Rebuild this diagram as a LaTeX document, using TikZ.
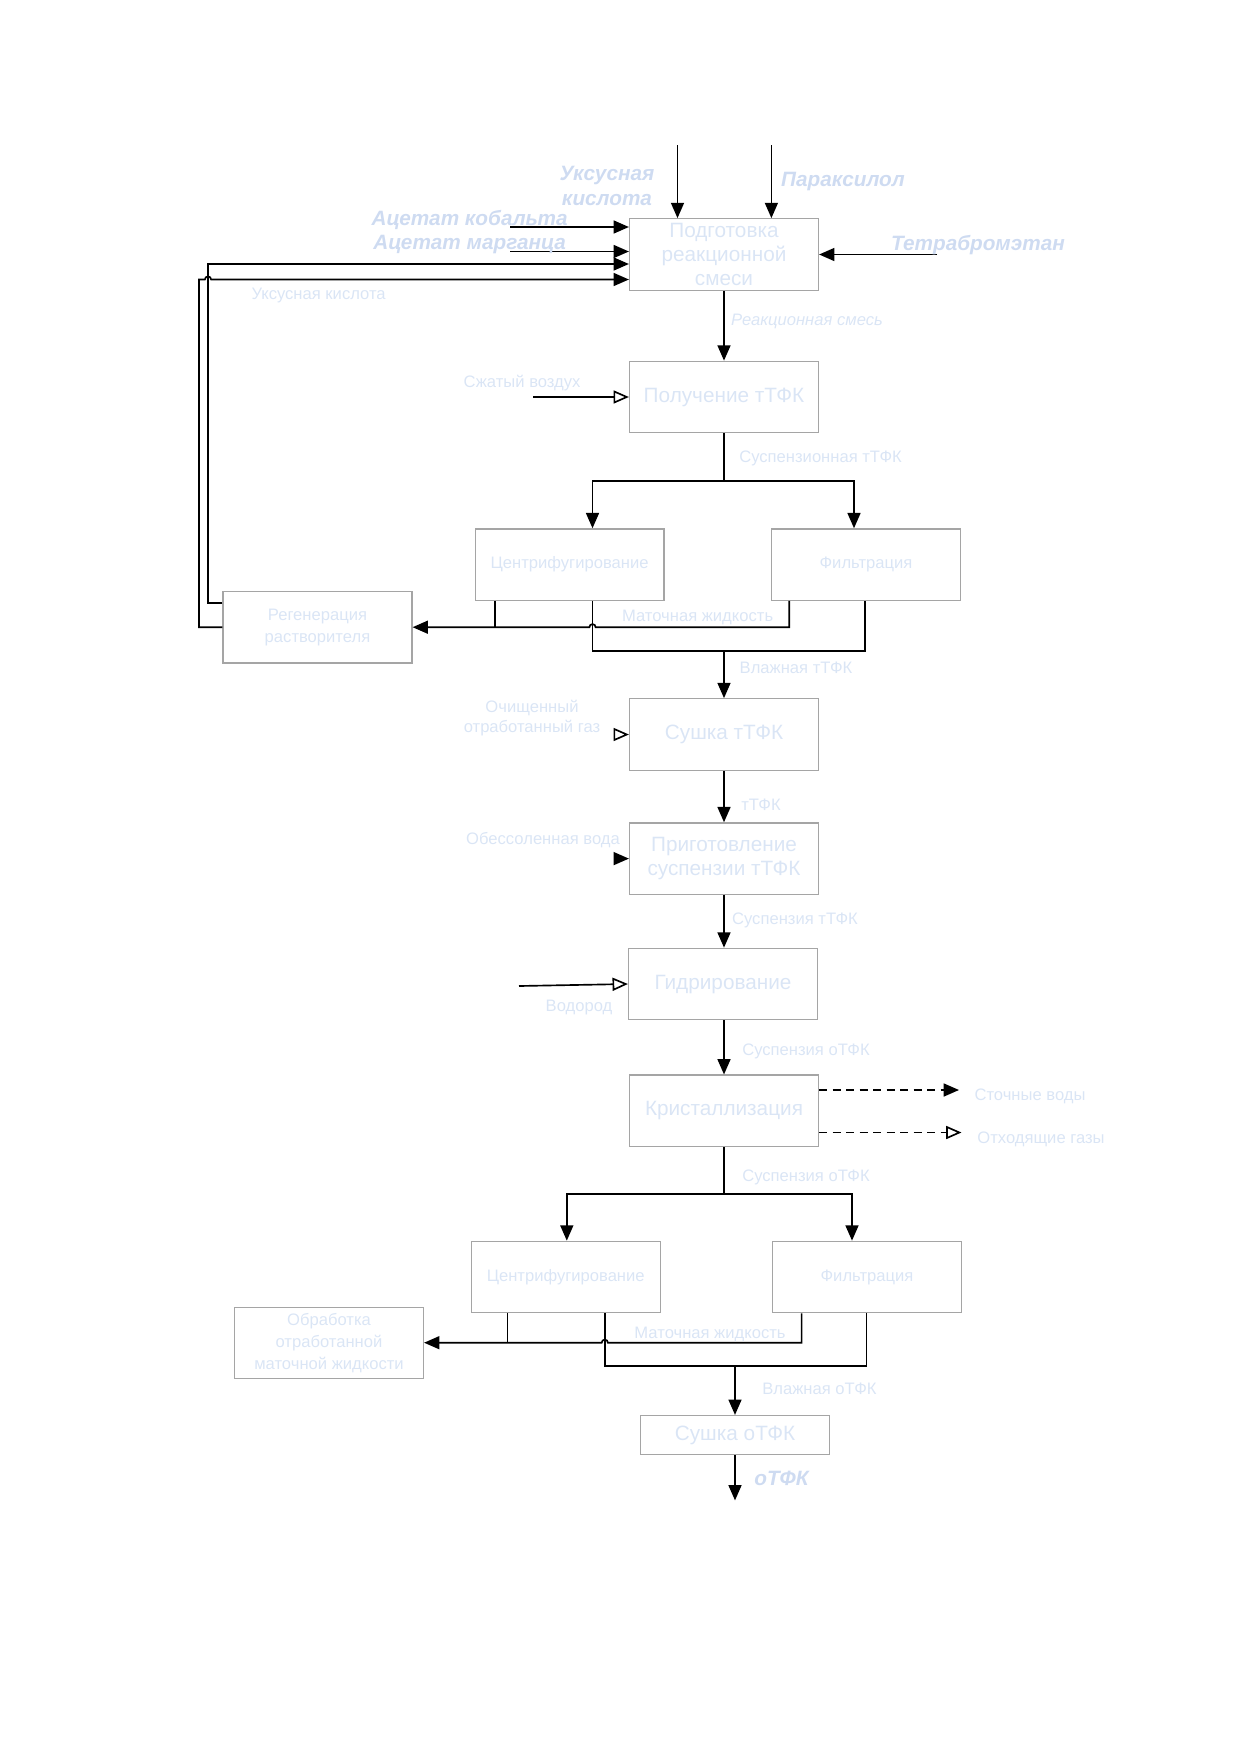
\documentclass[tikz,border=0pt]{standalone}
\usepackage{fontspec}
\setmainfont{Liberation Sans}
\usetikzlibrary{arrows.meta}
\usetikzlibrary{calc}
\definecolor{txtblue}{RGB}{218,229,245}
\definecolor{boldblue}{RGB}{206,219,241}
\definecolor{boxgray}{RGB}{165,165,165}

\begin{document}
\begin{tikzpicture}[x=0.16935mm, y=-0.16935mm,
		box/.style={draw=boxgray, line width=0.6pt, minimum width=32mm, minimum height=12.1mm, inner sep=0pt, align=center, text=txtblue, font=\fontsize{10}{11.5}\selectfont},
		smallbox/.style={box, font=\fontsize{8}{10.5}\selectfont},
		lbl/.style={text=txtblue, inner sep=0pt, align=center, font=\fontsize{8}{10}\selectfont},
		blbl/.style={text=boldblue, inner sep=0pt, align=center, font=\fontsize{10}{12}\selectfont\bfseries\itshape},
		arr/.style={line width=0.8pt, -{Triangle[length=2.6mm,width=2.2mm]}},
		oarr/.style={line width=0.8pt, -{Triangle[open,length=2.6mm,width=2.2mm]}},
		line/.style={line width=0.8pt},
		dash line/.style={dash pattern=on 4pt off 2.5pt}]
	
		\useasboundingbox (0,0) rectangle (1240,1754);
		
		\node (v0) at (724,254.5) [box] {Подготовка\\реакционной\\смеси};
		\node (v1) at (724,397) [box] {Получение тТФК};
		\node (v3) at (569.6,564.6) [smallbox] {Центрифугирование};
		\node (v4) at (866,564.6) [smallbox] {Фильтрация};
		\node (v2) at (317.5,627.2) [smallbox] {Регенерация\\растворителя};
		\node (v5) at (724,734.5) [box] {Сушка тТФК};
		\node (v6) at (724,858.6) [box] {Приготовление\\суспензии тТФК};
		\node (v7) at (723,984) [box] {Гидрирование};
		\node (v8) at (724,1110.8) [box] {Кристаллизация};
		\node (v9) at (565.7,1277) [smallbox] {Центрифугирование};
		\node (v10) at (867,1277) [smallbox] {Фильтрация};
		\node (v11) at (329,1343) [smallbox] {Обработка\\отработанной\\маточной жидкости};
		\node (v12) at (735,1435) [box, minimum height=6.6mm] {Сушка оТФК};
		
		% inputs of the first box
		\coordinate (a1) at (677.5,145);
		\coordinate (a2) at (771.4,145);
		\coordinate (a3) at (510,227);
		\coordinate (a4) at (510,251.5);
		\coordinate (a5) at (937,254.5);
		\draw[arr] (a1) -- (v0.north -| a1);
		\draw[arr] (a2) -- (v0.north -| a2);
		\draw[arr] (a3) -- (a3 -| v0.west);
		\draw[arr] (a4) -- (a4 -| v0.west);
		\draw[arr] (a5) -- (v0.east);
		\node (t1) at (607,186) [blbl] {Уксусная\\кислота};
		\node (t2) at (843,182) [blbl] {Параксилол};
		\node (t3) at (469.6,220) [blbl] {Ацетат кобальта};
		\node (t4) at (469.6,245) [blbl] {Ацетат марганца};
		\node (t5) at (978,245) [blbl] {Тетрабромэтан};
		
		% recycle of the solvent
		\coordinate (ri) at (208,603);
		\coordinate (ru) at (208,264);
		\coordinate (ro) at (199,279.5);
		\draw[arr] (v2.west |- ri) -- (ri) -- (ru) -- (ru -| v0.west);
		\draw[arr] (v2.west) -- (v2.west -| ro) -- (ro) -- ($(ru |- ro)+(-1.5pt,0)$) arc[start angle=180, end angle=0, radius=1.5pt] -- (ro -| v0.west);
		\node (t6) at (318.6,296) [lbl] {Уксусная кислота};
		
		\draw[arr] (v0) -- (v1);
		\node (t7) at (807,321) [lbl, font=\fontsize{8}{10}\selectfont\itshape] {Реакционная смесь};
		\coordinate (a6) at (533,397);
		\draw[oarr] (a6) -- (v1.west);
		\node (t8) at (522,383.5) [lbl] {Сжатый воздух};
		
		% first separation
		\coordinate (s1) at (724,480.7);
		\coordinate (s3) at (592.5,480.7);
		\coordinate (s4) at (854,480.7);
		\draw[line] (v1.south) -- (s1);
		\draw[arr] (s1) -- (s3) -- (v3.north -| s3);
		\draw[arr] (s1) -- (s4) -- (v4.north -| s4);
		\node (t9) at (820.6,458) [lbl] {Суспензионная тТФК};
		\coordinate (m1) at (495.3,627.2);
		\coordinate (m2) at (789.3,627.2);
		\coordinate (w1) at (592.5,650.7);
		\coordinate (w2) at (865.3,650.7);
		\coordinate (w0) at (724,650.7);
		\draw[line] (v3.south -| m1) -- (m1);
		\draw[arr] (v4.south -| m2) -- (m2) -- ($(w1 |- m2)+(1.5pt,0)$) arc[start angle=0, end angle=180, radius=1.5pt] -- (m2 -| v2.east);
		\draw[line] (v3.south -| w1) -- (w1) -- (w2) -- (v4.south -| w2);
		\draw[arr] (w0) -- (v5.north);
		\node (t10) at (697.6,617) [lbl] {Маточная жидкость};
		\node (t11) at (796,667.5) [lbl] {Влажная тТФК};
		
		\coordinate (a7) at (614,734.5);
		\draw[oarr] (a7) -- (v5.west);
		\node (t12) at (532,718) [lbl] {Очищенный\\отработанный газ};
		\draw[arr] (v5) -- (v6);
		\node (t13) at (761,805) [lbl] {тТФК};
		\coordinate (a8) at (614,858.6);
		\draw[arr] (a8) -- (v6.west);
		\node (t14) at (543,839.6) [lbl] {Обессоленная вода};
		\draw[arr] (v6.south) -- (v6.south |- v7.north);
		\node (t15) at (795,920) [lbl] {Суспензия тТФК};
		\coordinate (a9) at (519,986);
		\draw[oarr] (a9) -- (v7.west);
		\node (t16) at (579,1007) [lbl] {Водород};
		\draw[arr] (v7.south) -- (v7.south -| v8.north) -- (v8.north);
		\node (t17) at (806,1051) [lbl] {Суспензия оТФК};
		
		% outputs of the crystallisation
		\coordinate (b1) at (959,1090);
		\coordinate (b2) at (961.5,1132.5);
		\draw[arr, dash line] (b1 -| v8.east) -- (b1);
		\draw[oarr, dash line] (b2 -| v8.east) -- (b2);
		\node (t18) at (1030,1096.8) [lbl] {Сточные воды};
		\node (t19) at (1041,1139) [lbl] {Отходящие газы};
		
		% second separation
		\coordinate (s5) at (724,1194);
		\coordinate (s6) at (566.8,1194);
		\coordinate (s7) at (852,1194);
		\draw[line] (v8.south) -- (s5);
		\draw[arr] (s5) -- (s6) -- (v9.north -| s6);
		\draw[arr] (s5) -- (s7) -- (v10.north -| s7);
		\node (t20) at (806,1177) [lbl] {Суспензия оТФК};
		\coordinate (m3) at (507.6,1342.7);
		\coordinate (m4) at (801.6,1342.7);
		\coordinate (w3) at (604.8,1366);
		\coordinate (w4) at (866.5,1366);
		\coordinate (w5) at (735,1366);
		\draw[line] (v9.south -| m3) -- (m3);
		\draw[arr] (v10.south -| m4) -- (m4) -- ($(w3 |- m4)+(1.5pt,0)$) arc[start angle=0, end angle=180, radius=1.5pt] -- (m4 -| v11.east);
		\draw[line] (v9.south -| w3) -- (w3) -- (w4) -- (v10.south -| w4);
		\draw[arr] (w5) -- (v12.north);
		\node (t21) at (710,1334) [lbl] {Маточная жидкость};
		\node (t22) at (819.5,1388.6) [lbl] {Влажная оТФК};
		
		\coordinate (e1) at (735,1500.4);
		\draw[arr] (v12.south) -- (e1);
		\node (t23) at (781.5,1478) [blbl] {оТФК};
	\end{tikzpicture}
\end{document}
